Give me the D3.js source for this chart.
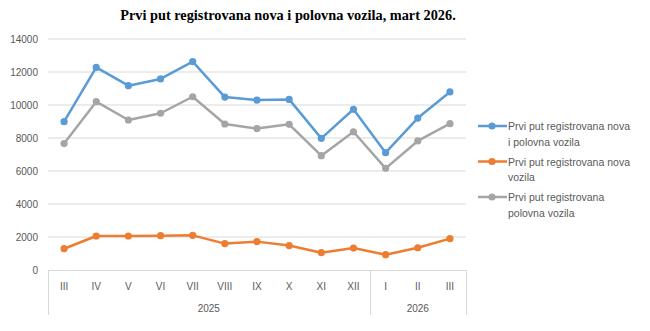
<!DOCTYPE html>
<html>
<head>
<meta charset="utf-8">
<script src="https://cdn.jsdelivr.net/npm/d3@7"></script>
<style>
  body { margin: 0; background: #fff; }
  text { font-family: "Liberation Sans", Arial, sans-serif; }
</style>
</head>
<body>
<div id="chart"></div>
<script>
// data
var months = ['III', 'IV', 'V', 'VI', 'VII', 'VIII', 'IX', 'X', 'XI', 'XII', 'I', 'II', 'III'];
var years = [
  { label: '2025', from: 0, to: 10 },
  { label: '2026', from: 10, to: 13 }
];
var totalVehicles = [8990, 12280, 11170, 11580, 12630, 10480, 10300, 10340, 7980, 9740, 7110, 9210, 10790];
var newVehicles = [1290, 2060, 2060, 2080, 2100, 1600, 1720, 1480, 1050, 1330, 930, 1350, 1900];
var usedVehicles = [7660, 10200, 9090, 9500, 10500, 8850, 8570, 8830, 6930, 8380, 6160, 7820, 8870];
var yTicks = [0, 2000, 4000, 6000, 8000, 10000, 12000, 14000];

var series = [
  { name: ['Prvi put registrovana nova', 'i polovna vozila'], values: totalVehicles, color: '#5b9bd5' },
  { name: ['Prvi put registrovana nova', 'vozila'], values: newVehicles, color: '#ed7d31' },
  { name: ['Prvi put registrovana', 'polovna vozila'], values: usedVehicles, color: '#a5a5a5' }
];

var width = 650, height = 331;
var plot = { left: 48, right: 466, top: 39, bottom: 270 };

var svg = d3.select('#chart').append('svg')
  .attr('width', width)
  .attr('height', height);

svg.append('text')
  .attr('x', 288)
  .attr('y', 20)
  .attr('text-anchor', 'middle')
  .style('font-family', '"Liberation Serif", serif')
  .style('font-weight', 'bold')
  .style('font-size', '14.3px')
  .attr('fill', '#000')
  .text('Prvi put registrovana nova i polovna vozila, mart 2026.');

var x = d3.scaleBand()
  .domain(d3.range(months.length))
  .range([plot.left, plot.right]);

var y = d3.scaleLinear()
  .domain([0, 14000])
  .range([plot.bottom, plot.top]);

// gridlines
svg.append('g')
  .selectAll('line')
  .data(yTicks.slice(1))
  .enter()
  .append('line')
  .attr('x1', plot.left)
  .attr('x2', plot.right)
  .attr('y1', d => y(d))
  .attr('y2', d => y(d))
  .attr('stroke', '#d9d9d9')
  .attr('stroke-width', 1);

// y axis labels
var yAxis = svg.append('g')
  .attr('transform', 'translate(' + (plot.left - 10) + ',0)')
  .call(d3.axisLeft(y).tickValues(yTicks).tickFormat(d3.format('d')).tickSize(0).tickPadding(0));
yAxis.select('.domain').remove();
yAxis.selectAll('text')
  .style('font-size', '10px')
  .attr('fill', '#595959');

// x axis, two levels
var axisG = svg.append('g');
axisG.append('line')
  .attr('x1', plot.left).attr('x2', plot.right)
  .attr('y1', plot.bottom + 0.5).attr('y2', plot.bottom + 0.5)
  .attr('stroke', '#d9d9d9');
var seps = [0, 10, 13];
axisG.selectAll('line.sep')
  .data(seps)
  .enter()
  .append('line')
  .attr('class', 'sep')
  .attr('x1', d => Math.round(d < months.length ? x(d) : plot.right) + 0.5)
  .attr('x2', d => Math.round(d < months.length ? x(d) : plot.right) + 0.5)
  .attr('y1', plot.bottom)
  .attr('y2', 315)
  .attr('stroke', '#d9d9d9');

axisG.selectAll('text.month')
  .data(months)
  .enter()
  .append('text')
  .attr('class', 'month')
  .attr('x', (d, i) => x(i) + x.bandwidth() / 2)
  .attr('y', 290)
  .attr('text-anchor', 'middle')
  .style('font-size', '10px')
  .attr('fill', '#595959')
  .text(d => d);

axisG.selectAll('text.year')
  .data(years)
  .enter()
  .append('text')
  .attr('class', 'year')
  .attr('x', d => (x(d.from) + (d.to < months.length ? x(d.to) : plot.right)) / 2)
  .attr('y', 312)
  .attr('text-anchor', 'middle')
  .style('font-size', '10px')
  .attr('fill', '#595959')
  .text(d => d.label);

// lines
var line = d3.line()
  .x((d, i) => x(i) + x.bandwidth() / 2)
  .y(d => y(d));

series.forEach(s => {
  var g = svg.append('g');
  g.append('path')
    .attr('d', line(s.values))
    .attr('fill', 'none')
    .attr('stroke', s.color)
    .attr('stroke-width', 2.5)
    .attr('stroke-linejoin', 'round');
  g.selectAll('circle')
    .data(s.values)
    .enter()
    .append('circle')
    .attr('cx', (d, i) => x(i) + x.bandwidth() / 2)
    .attr('cy', d => y(d))
    .attr('r', 3.6)
    .attr('fill', s.color);
});

// legend
var legend = svg.append('g');
series.forEach((s, i) => {
  var ly = 126 + i * 35.5;
  var item = legend.append('g');
  item.append('line')
    .attr('x1', 478).attr('x2', 507)
    .attr('y1', ly).attr('y2', ly)
    .attr('stroke', s.color)
    .attr('stroke-width', 2.5);
  item.append('circle')
    .attr('cx', 492).attr('cy', ly)
    .attr('r', 3.6)
    .attr('fill', s.color);
  item.append('text')
    .attr('x', 508)
    .attr('y', ly + 4)
    .style('font-size', '10.5px')
    .attr('fill', '#595959')
    .selectAll('tspan')
    .data(s.name)
    .enter()
    .append('tspan')
    .attr('x', 508)
    .attr('dy', (d, j) => j === 0 ? 0 : 15.5)
    .text(d => d);
});
</script>
</body>
</html>
